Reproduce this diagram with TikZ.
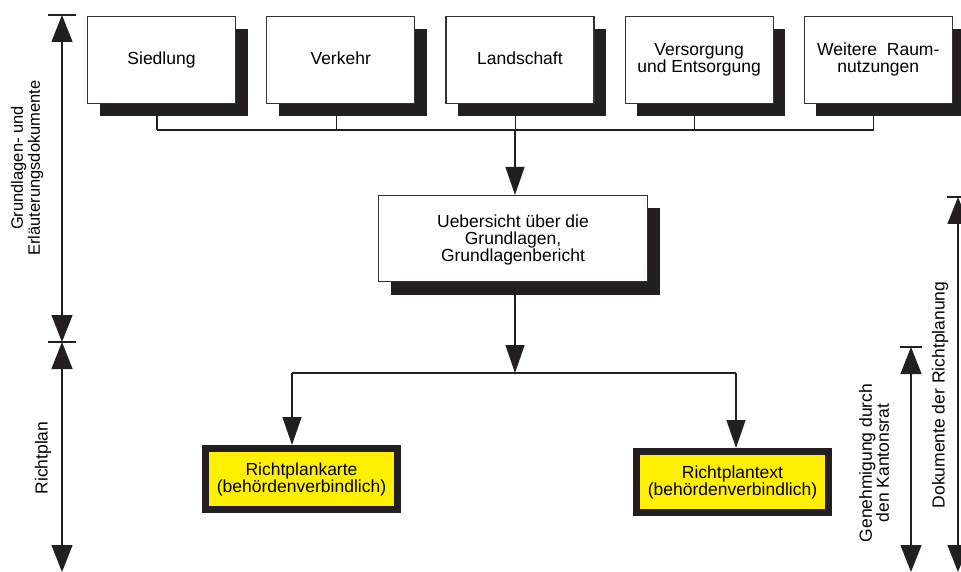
\documentclass[tikz,border=0pt]{standalone}
\usepackage{fontspec}
\setmainfont{Liberation Sans}
\usetikzlibrary{positioning, arrows.meta, shadows}
\definecolor{shade}{RGB}{35,31,32}
\definecolor{marker}{RGB}{255,240,0}

\begin{document}
\begin{tikzpicture}[x=1pt, y=-1pt, font=\fontsize{17.5}{17}\selectfont,
    topic/.style={draw=black!80, line width=1.2pt, fill=white, minimum width=148pt, minimum height=87pt, text depth=4.5pt,
      align=center, inner sep=2pt, drop shadow={shadow xshift=12pt, shadow yshift=-13pt, fill=shade, opacity=1}},
    result/.style={draw=shade, line width=7pt, fill=marker, minimum width=192pt, minimum height=61pt, align=center, inner sep=2pt},
    link/.style={line width=1.3pt, draw=shade},
    flow/.style={link, -{Triangle[length=28pt, width=19pt]}},
    spanarrow/.style={link, {Triangle[length=27pt, width=21pt]}-{Triangle[length=27pt, width=21pt]}},
    side/.style={rotate=90, align=center}]
    \useasboundingbox (0,0) rectangle (961,572);
    % Grundlagen
    \node[topic] (sied) at (161.5,60) {Siedlung};
    \node[topic, right=30pt of sied] (verk) {Verkehr};
    \node[topic, right=30pt of verk] (land) {Landschaft};
    \node[topic, right=30pt of land] (vers) {Versorgung\\und Entsorgung};
    \node[topic, right=30pt of vers] (weit) {Weitere\ \ Raum-\\nutzungen};
    \node[topic, minimum width=269pt, minimum height=86pt, text depth=0pt] (base) at (513,238.5) {Uebersicht über die\\Grundlagen,\\Grundlagenbericht};
    % Richtplan
    \node[result] (karte) at (301.5,479) {Richtplankarte\\(behördenverbindlich)};
    \node[result] (rtext) at (732.5,482) {Richtplantext\\(behördenverbindlich)};
    % connectors
    \coordinate (jn) at (515,130);
    \coordinate (jn2) at (515,373);
    \coordinate (kl) at (292,373);
    \coordinate (kr) at (736,373);
    \foreach \n in {sied,verk,land,vers,weit} {
        \coordinate (s\n) at ([xshift=-4.5pt]\n.south);
        \draw[link] (s\n) -- (s\n |- jn);
    }
    \draw[link] (ssied |- jn) -- (sweit |- jn);
    \draw[flow] (jn) -- (jn |- base.north);
    \draw[flow] (base.south -| jn) -- (jn2);
    \draw[link] (kl) -- (kr);
    \draw[flow] (kl) -- (kl |- karte.north);
    \draw[flow] (kr) -- (kr |- rtext.north);
    % side scales
    \coordinate (g1) at (62,15);
    \coordinate (g2) at (62,342);
    \coordinate (g3) at (62,572);
    \coordinate (h1) at (911,347);
    \coordinate (h2) at (911,572);
    \coordinate (d1) at (958,197);
    \coordinate (d2) at (958,572);
    \draw[spanarrow] (g1) -- (g2);
    \draw[spanarrow] (g2) -- (g3);
    \draw[spanarrow] (h1) -- (h2);
    \draw[spanarrow] (d1) -- (d2);
    \draw[link] ([xshift=-14pt]g1) -- ([xshift=14pt]g1);
    \draw[link] ([xshift=-14pt]g2) -- ([xshift=14pt]g2);
    \draw[link] ([xshift=-11pt]h1) -- ([xshift=11pt]h1);
    \draw[link] ([xshift=-11pt]d1) -- ([xshift=11pt]d1);
    \node[side, font=\fontsize{16.5}{17}\selectfont] (glab) at (27,168) {Grundlagen- und\\Erläuterungsdokumente};
    \node[side] (rlab) at (43,458) {Richtplan};
    \node[side] (klab) at (874,463) {Genehmigung durch\\den Kantonsrat};
    \node[side] (dlab) at (940,395) {Dokumente der Richtplanung};
\end{tikzpicture}
\end{document}
